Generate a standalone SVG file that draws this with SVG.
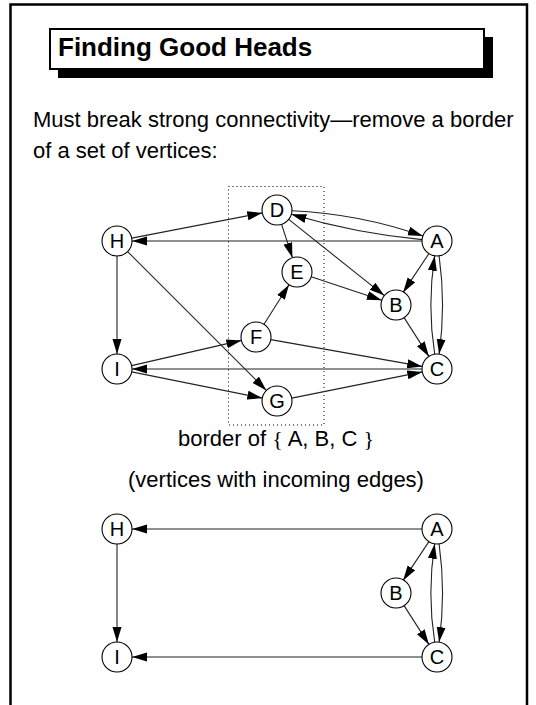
<svg xmlns="http://www.w3.org/2000/svg" width="536" height="705" viewBox="0 0 536 705">
<defs>
<style>
.frame{fill:none;stroke:#000;stroke-width:2.5}
.node circle{fill:#fff;stroke:#000;stroke-width:1.1}
.node text{font-family:"Liberation Sans",Arial,sans-serif;font-size:20px;text-anchor:middle;fill:#000}
.edge{fill:none;stroke:#222;stroke-width:1.1;marker-end:url(#ah)}
.txt{font-family:"Liberation Sans",Arial,sans-serif;font-size:22px;fill:#000}
.title{font-family:"Liberation Sans",Arial,sans-serif;font-size:26px;font-weight:bold;fill:#000}
</style>
<marker id="ah" markerUnits="userSpaceOnUse" markerWidth="16" markerHeight="10" refX="15" refY="4.5" orient="auto">
<path d="M0,0 L15,4.5 L0,9 z" fill="#000"/>
</marker>
</defs>
<rect width="536" height="705" fill="#fff"/>
<path class="frame" d="M10.5,705 V4.5 H527 V705"/>
<g id="title">
<rect x="58" y="37" width="435" height="41" fill="#000"/>
<rect x="50" y="29" width="434" height="40" fill="#fff" stroke="#000" stroke-width="2"/>
<text class="title" x="58" y="56">Finding Good Heads</text>
</g>
<text class="txt" x="33" y="127">Must break strong connectivity—remove a border</text>
<text class="txt" x="33" y="158">of a set of vertices:</text>
<rect x="228.5" y="186.5" width="95.5" height="238.5" fill="none" stroke="#000" stroke-width="1" stroke-dasharray="1 3"/>
<g id="connectors">
<line class="edge" x1="131.7" y1="238.1" x2="262.3" y2="212.9"/>
<line class="edge" x1="422" y1="241" x2="132" y2="241"/>
<path class="edge" d="M292,210.7 Q359.3,213.7 422.9,236"/>
<path class="edge" d="M422.1,239.6 Q355.5,233.4 291.4,214.3"/>
<line class="edge" x1="281.6" y1="224.3" x2="292.4" y2="257.7"/>
<line class="edge" x1="288.7" y1="219.4" x2="384.3" y2="295.6"/>
<line class="edge" x1="311.2" y1="276.7" x2="381.8" y2="300.3"/>
<line class="edge" x1="428.9" y1="253.6" x2="403.1" y2="292.4"/>
<line class="edge" x1="404.1" y1="317.6" x2="428.9" y2="356.4"/>
<path class="edge" d="M439.1,255.9 Q446,305 439.1,354.1"/>
<path class="edge" d="M434.7,354.2 Q427,305 434.7,255.8"/>
<line class="edge" x1="264" y1="324.3" x2="289" y2="284.7"/>
<line class="edge" x1="270.8" y1="339.6" x2="422.2" y2="366.4"/>
<line class="edge" x1="131.6" y1="365.6" x2="241.4" y2="340.4"/>
<line class="edge" x1="422" y1="369" x2="132" y2="369"/>
<line class="edge" x1="131.7" y1="371.9" x2="262.3" y2="398.1"/>
<line class="edge" x1="127.6" y1="251.6" x2="266.4" y2="390.4"/>
<line class="edge" x1="117" y1="256" x2="117" y2="354"/>
<line class="edge" x1="291.7" y1="398.1" x2="422.3" y2="371.9"/>
<line class="edge" x1="422" y1="529" x2="132" y2="529"/>
<line class="edge" x1="117" y1="544" x2="117" y2="642"/>
<line class="edge" x1="428.9" y1="541.6" x2="403.1" y2="580.4"/>
<line class="edge" x1="404.1" y1="605.6" x2="428.9" y2="644.4"/>
<path class="edge" d="M439.1,543.9 Q446,593 439.1,642.1"/>
<path class="edge" d="M434.7,642.2 Q427,593 434.7,543.8"/>
<line class="edge" x1="422" y1="657" x2="132" y2="657"/>
</g>
<g id="node-H" class="node"><circle cx="117" cy="241" r="15"/><text x="117" y="248">H</text></g>
<g id="node-D" class="node"><circle cx="277" cy="210" r="15"/><text x="277" y="217">D</text></g>
<g id="node-A" class="node"><circle cx="437" cy="241" r="15"/><text x="437" y="248">A</text></g>
<g id="node-E" class="node"><circle cx="297" cy="272" r="15"/><text x="297" y="279">E</text></g>
<g id="node-B" class="node"><circle cx="396" cy="305" r="15"/><text x="396" y="312">B</text></g>
<g id="node-F" class="node"><circle cx="256" cy="337" r="15"/><text x="256" y="344">F</text></g>
<g id="node-I" class="node"><circle cx="117" cy="369" r="15"/><text x="117" y="376">I</text></g>
<g id="node-C" class="node"><circle cx="437" cy="369" r="15"/><text x="437" y="376">C</text></g>
<g id="node-G" class="node"><circle cx="277" cy="401" r="15"/><text x="277" y="408">G</text></g>
<text class="txt" x="276" y="446" text-anchor="middle">border of <tspan font-family="'Liberation Serif',serif">{</tspan> A, B, C <tspan font-family="'Liberation Serif',serif">}</tspan></text>
<text class="txt" x="276" y="487" text-anchor="middle">(vertices with incoming edges)</text>
<g id="node-H2" class="node"><circle cx="117" cy="529" r="15"/><text x="117" y="536">H</text></g>
<g id="node-A2" class="node"><circle cx="437" cy="529" r="15"/><text x="437" y="536">A</text></g>
<g id="node-B2" class="node"><circle cx="396" cy="593" r="15"/><text x="396" y="600">B</text></g>
<g id="node-I2" class="node"><circle cx="117" cy="657" r="15"/><text x="117" y="664">I</text></g>
<g id="node-C2" class="node"><circle cx="437" cy="657" r="15"/><text x="437" y="664">C</text></g>
</svg>
